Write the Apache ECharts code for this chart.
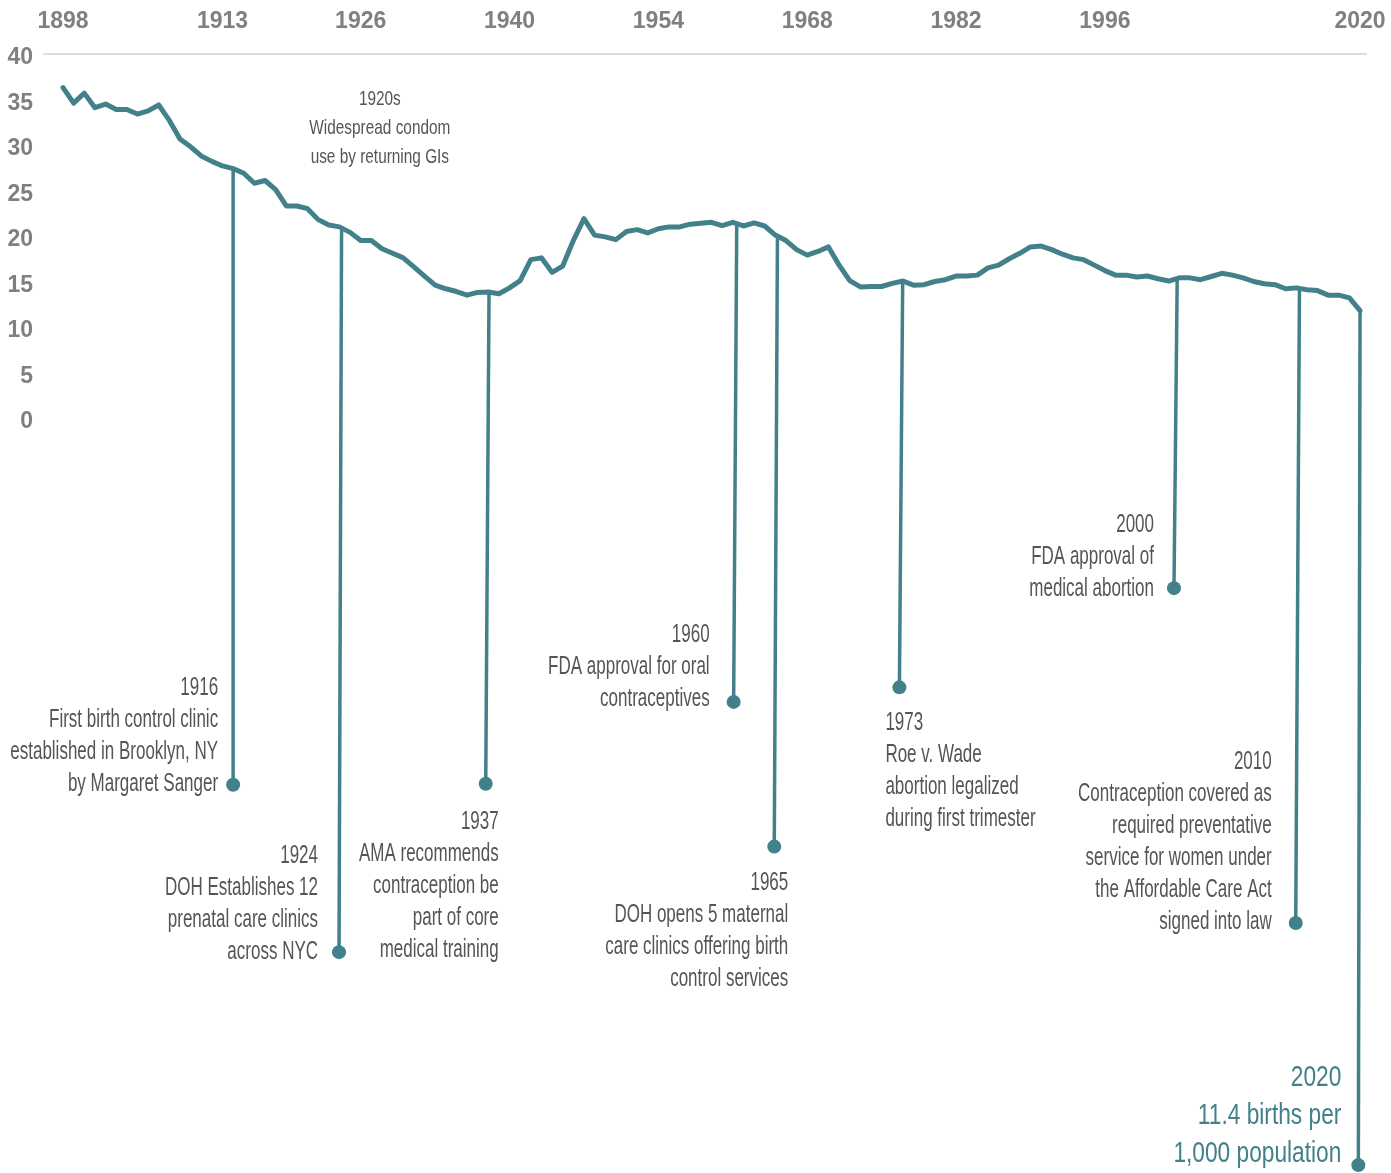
<!DOCTYPE html>
<html>
<head>
<meta charset="utf-8">
<script src="https://cdn.jsdelivr.net/npm/echarts@6/dist/echarts.min.js"></script>
<style>
  html, body { margin: 0; padding: 0; background: #ffffff; }
  #chart { width: 1391px; height: 1173px; }
</style>
</head>
<body>
<div id="chart"></div>
<script>
// ---------------- DATA ----------------
const years = [
  1898, 1899, 1900, 1901, 1902, 1903, 1904, 1905, 1906, 1907,
  1908, 1909, 1910, 1911, 1912, 1913, 1914, 1915, 1916, 1917,
  1918, 1919, 1920, 1921, 1922, 1923, 1924, 1925, 1926, 1927,
  1928, 1929, 1930, 1931, 1932, 1933, 1934, 1935, 1936, 1937,
  1938, 1939, 1940, 1941, 1942, 1943, 1944, 1945, 1946, 1947,
  1948, 1949, 1950, 1951, 1952, 1953, 1954, 1955, 1956, 1957,
  1958, 1959, 1960, 1961, 1962, 1963, 1964, 1965, 1966, 1967,
  1968, 1969, 1970, 1971, 1972, 1973, 1974, 1975, 1976, 1977,
  1978, 1979, 1980, 1981, 1982, 1983, 1984, 1985, 1986, 1987,
  1988, 1989, 1990, 1991, 1992, 1993, 1994, 1995, 1996, 1997,
  1998, 1999, 2000, 2001, 2002, 2003, 2004, 2005, 2006, 2007,
  2008, 2009, 2010, 2011, 2012, 2013, 2014, 2015, 2016, 2017,
  2018, 2019, 2020
];

// births per 1,000 population
const birthRates = [
  36.3, 34.6, 35.7, 34.1, 34.5, 33.9, 33.9, 33.4, 33.75, 34.4,
  32.7, 30.65, 29.8, 28.8, 28.2, 27.7, 27.4, 26.9, 25.8, 26.1,
  25.1, 23.3, 23.3, 23.0, 21.8, 21.2, 21.0, 20.4, 19.5, 19.5,
  18.6, 18.1, 17.6, 16.6, 15.6, 14.6, 14.2, 13.9, 13.5, 13.8,
  13.85, 13.65, 14.3, 15.1, 17.4, 17.6, 16.0, 16.7, 19.5, 21.9,
  20.1, 19.9, 19.6, 20.5, 20.7, 20.35, 20.8, 21.0, 21.0, 21.3,
  21.4, 21.5, 21.15, 21.5, 21.1, 21.45, 21.1, 20.1, 19.5, 18.5,
  17.9, 18.3, 18.8, 16.8, 15.1, 14.4, 14.45, 14.45, 14.8, 15.05,
  14.6, 14.65, 15.0, 15.2, 15.6, 15.6, 15.7, 16.5, 16.8, 17.5,
  18.1, 18.8, 18.9, 18.5, 18.0, 17.6, 17.4, 16.8, 16.2, 15.7,
  15.7, 15.5, 15.6, 15.3, 15.05, 15.4, 15.4, 15.2, 15.55, 15.9,
  15.7, 15.4, 15.0, 14.75, 14.65, 14.2, 14.3, 14.1, 14.0, 13.5,
  13.5, 13.2, 11.8
];

const xTickLabels = [1898, 1913, 1926, 1940, 1954, 1968, 1982, 1996, 2020];
const yTickLabels = [0, 5, 10, 15, 20, 25, 30, 35, 40];

const eventYears = ['1916', '1924', '1937', '1960', '1965', '1973', '2000', '2010', '2020'];
const eventTexts = [
  ['First birth control clinic', 'established in Brooklyn, NY', 'by Margaret Sanger'],
  ['DOH Establishes 12', 'prenatal care clinics', 'across NYC'],
  ['AMA recommends', 'contraception be', 'part of core', 'medical training'],
  ['FDA approval for oral', 'contraceptives'],
  ['DOH opens 5 maternal', 'care clinics offering birth', 'control services'],
  ['Roe v. Wade', 'abortion legalized', 'during first trimester'],
  ['FDA approval of', 'medical abortion'],
  ['Contraception covered as', 'required preventative', 'service for women under', 'the Affordable Care Act', 'signed into law'],
  ['11.4 births per', '1,000 population']
];

const noteTitle = '1920s';
const noteLines = ['Widespread condom', 'use by returning GIs'];

// ---------------- LAYOUT (where each stem sits) ----------------
const stemTopYear    = [1914.0, 1924.2, 1938.07, 1961.37, 1965.2, 1976.98, 2002.8, 2014.3, 2020.0];
const stemBottomYear = [1914.0, 1923.96, 1937.76, 1961.08, 1964.9, 1976.67, 2002.5, 2013.95, 2019.84];
const stemDotLevel   = [-40.3, -58.7, -40.2, -31.2, -47.1, -29.6, -18.7, -55.5, -82.1];
// text offsets from the dot (px) and alignment
const textLayout = [
  { dx: -15, dy: 15, align: 'right', va: 'bottom' },
  { dx: -21, dy: 16, align: 'right', va: 'bottom' },
  { dx: 13,  dy: 22, align: 'right', va: 'top' },
  { dx: -24, dy: 13, align: 'right', va: 'bottom' },
  { dx: 14,  dy: 20, align: 'right', va: 'top' },
  { dx: -14, dy: 20, align: 'left',  va: 'top' },
  { dx: -20, dy: 17, align: 'right', va: 'bottom' },
  { dx: -24, dy: 15, align: 'right', va: 'bottom' },
  { dx: -17, dy: 8,  align: 'right', va: 'bottom', highlight: true }
];
const noteAnchor = [1927.8, 31.9];

// ---------------- STYLE ----------------
const TEAL = '#43818a';
const TEXT_GRAY = '#555555';
const AXIS_GRAY = '#808080';
const AXIS_FONT = "'Liberation Sans', Arial, sans-serif";
const TEXT_FONT = "'Liberation Sans', Arial, sans-serif";

function rateAt(yr) {
  const i = Math.floor(yr - years[0]);
  if (i >= birthRates.length - 1) return birthRates[birthRates.length - 1];
  const f = yr - years[i];
  return birthRates[i] * (1 - f) + birthRates[i + 1] * f;
}

const chart = echarts.init(document.getElementById('chart'), null, { renderer: 'canvas' });

const series = [];
series.push({
  type: 'line',
  name: 'Birth rate',
  data: years.map((y, i) => [y, birthRates[i]]),
  showSymbol: false,
  symbol: 'none',
  smooth: false,
  lineStyle: { color: TEAL, width: 5, join: 'round', cap: 'round' },
  z: 5,
  silent: true
});

stemTopYear.forEach((top, i) => {
  series.push({
    type: 'line',
    data: [[top, rateAt(top)], [stemBottomYear[i], stemDotLevel[i]]],
    symbol: 'none',
    showSymbol: false,
    lineStyle: { color: TEAL, width: 3.5 },
    z: 3,
    clip: false,
    silent: true
  });
});

series.push({
  type: 'scatter',
  data: stemBottomYear.map((x, i) => [x, stemDotLevel[i]]),
  symbol: 'circle',
  symbolSize: 14,
  itemStyle: { color: TEAL, opacity: 1 },
  z: 4,
  clip: false,
  silent: true
});

const option = {
  animation: false,
  backgroundColor: '#ffffff',
  grid: { left: 44, right: 25, top: 54, bottom: 4.25, containLabel: false },
  xAxis: {
    type: 'value',
    position: 'top',
    min: 1896.21,
    max: 2020.56,
    axisLine: { show: true, onZero: false, lineStyle: { color: '#dcdcdc', width: 2 } },
    axisTick: { show: false },
    splitLine: { show: false },
    axisLabel: {
      customValues: xTickLabels,
      margin: 21,
      color: AXIS_GRAY,
      fontFamily: AXIS_FONT,
      fontWeight: 'bold',
      fontSize: 23,
      formatter: v => String(v)
    }
  },
  yAxis: {
    type: 'value',
    min: -82.5,
    max: 40,
    axisLine: { show: false, onZero: false },
    axisTick: { show: false },
    splitLine: { show: false },
    axisLabel: {
      customValues: yTickLabels,
      margin: 11,
      color: AXIS_GRAY,
      fontFamily: AXIS_FONT,
      fontWeight: 'bold',
      fontSize: 23,
      formatter: v => '{t|' + v + '}',
      rich: {
        t: {
          color: AXIS_GRAY,
          fontFamily: AXIS_FONT,
          fontWeight: 'bold',
          fontSize: 23,
          padding: [8, 0, 0, 0]
        }
      }
    }
  },
  series: series
};

chart.setOption(option);

// ---------------- TEXT ANNOTATIONS (anchored through the chart's scales) ----------------
const graphics = [];
eventYears.forEach((yr, i) => {
  const p = chart.convertToPixel({ gridIndex: 0 }, [stemBottomYear[i], stemDotLevel[i]]);
  const L = textLayout[i];
  const hl = !!L.highlight;
  graphics.push({
    type: 'text',
    x: p[0] + L.dx,
    y: p[1] + L.dy,
    scaleX: hl ? 0.757 : 0.68,
    silent: true,
    style: {
      text: [yr].concat(eventTexts[i]).join('\n'),
      fill: hl ? TEAL : TEXT_GRAY,
      fontFamily: TEXT_FONT,
      fontSize: hl ? 30 : 25,
      lineHeight: hl ? 38 : 32,
      align: L.align,
      verticalAlign: L.va
    }
  });
});

const np = chart.convertToPixel({ gridIndex: 0 }, noteAnchor);
graphics.push({
  type: 'text',
  x: np[0],
  y: np[1],
  scaleX: 0.732,
  silent: true,
  style: {
    text: [noteTitle].concat(noteLines).join('\n'),
    fill: TEXT_GRAY,
    fontFamily: TEXT_FONT,
    fontSize: 21,
    lineHeight: 29,
    align: 'center',
    verticalAlign: 'middle'
  }
});

chart.setOption({ graphic: graphics });
</script>
</body>
</html>
